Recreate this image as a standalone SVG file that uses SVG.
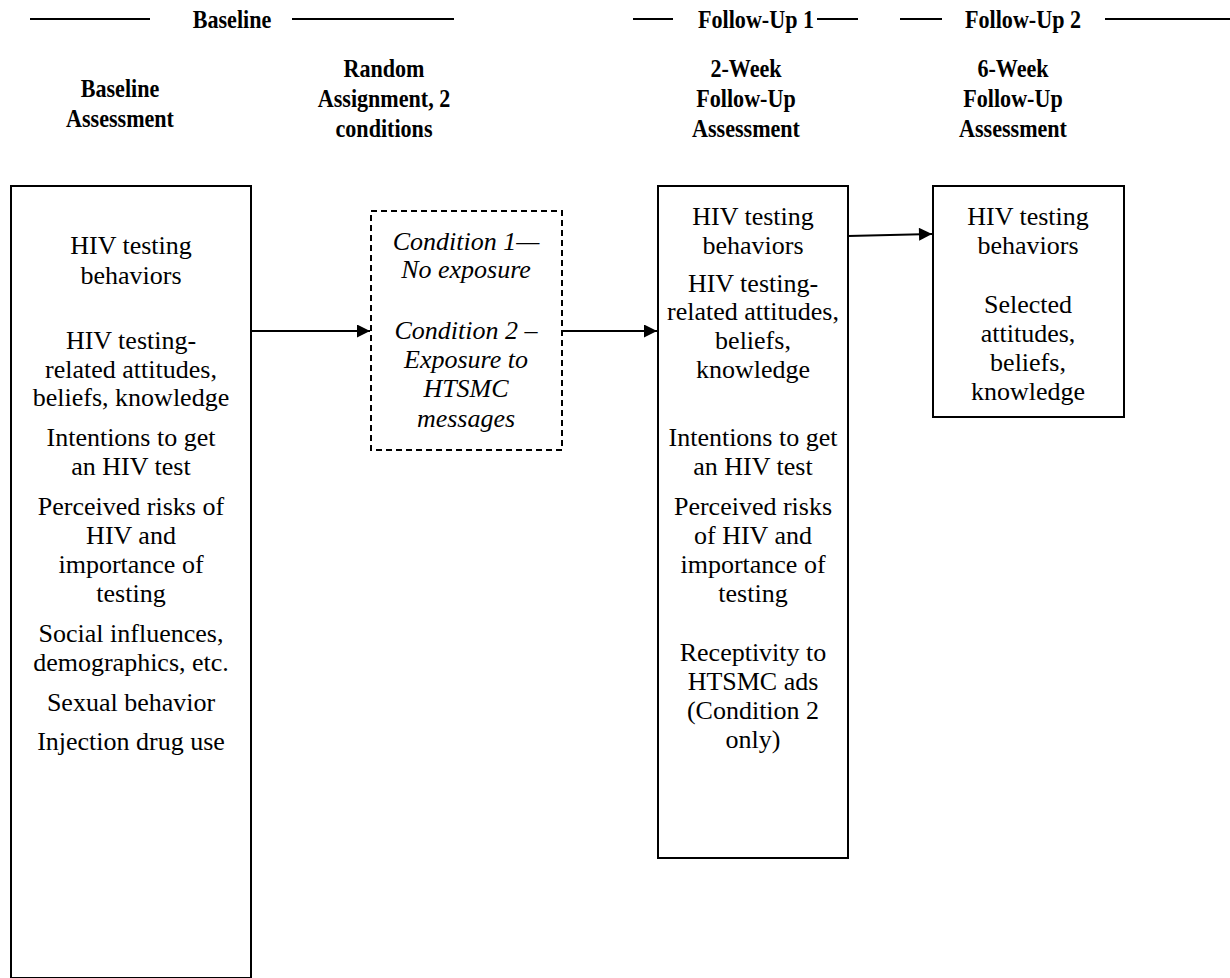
<svg xmlns="http://www.w3.org/2000/svg" width="1230" height="978" viewBox="0 0 1230 978">
<defs>
<style>
text{font-family:"Liberation Serif","Times New Roman",serif;fill:#000;text-anchor:middle}
.b{font-size:26px}
.h{font-size:26px;font-weight:bold}
.i{font-size:26px;font-style:italic}
.box{fill:#fff;stroke:#000;stroke-width:2}
.dash{fill:#fff;stroke:#000;stroke-width:2;stroke-dasharray:6 4}
.rule{stroke:#000;stroke-width:2}
.conn{stroke:#000;stroke-width:2;fill:none;marker-end:url(#ah)}
</style>
<marker id="ah" viewBox="0 0 10 10" refX="10" refY="5" markerUnits="userSpaceOnUse" markerWidth="15" markerHeight="13" orient="auto">
<path d="M0,0 L10,5 L0,10 z" fill="#000"/>
</marker>
</defs>
<rect width="1230" height="978" fill="#fff"/>
<g id="header">
<line class="rule" x1="30" y1="19" x2="150" y2="19"/>
<text class="h" transform="translate(232,28) scale(0.85,1)">Baseline</text>
<line class="rule" x1="292" y1="19" x2="454" y2="19"/>
<line class="rule" x1="633" y1="19" x2="673" y2="19"/>
<text class="h" transform="translate(756,28) scale(0.85,1)">Follow-Up 1</text>
<line class="rule" x1="817" y1="19" x2="858" y2="19"/>
<line class="rule" x1="900" y1="19" x2="942" y2="19"/>
<text class="h" transform="translate(1023,28) scale(0.85,1)">Follow-Up 2</text>
<line class="rule" x1="1105" y1="19" x2="1230" y2="19"/>
</g>
<g id="titles">
<text class="h" transform="translate(120,97) scale(0.85,1)">Baseline</text>
<text class="h" transform="translate(120,127) scale(0.85,1)">Assessment</text>
<text class="h" transform="translate(384,77) scale(0.85,1)">Random</text>
<text class="h" transform="translate(384,107) scale(0.85,1)">Assignment, 2</text>
<text class="h" transform="translate(384,137) scale(0.85,1)">conditions</text>
<text class="h" transform="translate(746,77) scale(0.85,1)">2-Week</text>
<text class="h" transform="translate(746,107) scale(0.85,1)">Follow-Up</text>
<text class="h" transform="translate(746,137) scale(0.85,1)">Assessment</text>
<text class="h" transform="translate(1013,77) scale(0.85,1)">6-Week</text>
<text class="h" transform="translate(1013,107) scale(0.85,1)">Follow-Up</text>
<text class="h" transform="translate(1013,137) scale(0.85,1)">Assessment</text>
</g>
<g id="connectors">
<line class="conn" x1="251" y1="331" x2="370" y2="331"/>
<line class="conn" x1="562" y1="331" x2="657" y2="331"/>
<line class="conn" x1="848" y1="236" x2="932" y2="234"/>
</g>
<g id="baseline-box">
<rect class="box" x="11" y="186" width="240" height="792"/>
<text class="b" x="131" y="254">HIV testing</text>
<text class="b" x="131" y="284">behaviors</text>
<text class="b" x="131" y="349">HIV testing-</text>
<text class="b" x="131" y="378">related attitudes,</text>
<text class="b" x="131" y="406">beliefs, knowledge</text>
<text class="b" x="131" y="446">Intentions to get</text>
<text class="b" x="131" y="475">an HIV test</text>
<text class="b" x="131" y="515">Perceived risks of</text>
<text class="b" x="131" y="544">HIV and</text>
<text class="b" x="131" y="573">importance of</text>
<text class="b" x="131" y="602">testing</text>
<text class="b" x="131" y="642">Social influences,</text>
<text class="b" x="131" y="671">demographics, etc.</text>
<text class="b" x="131" y="711">Sexual behavior</text>
<text class="b" x="131" y="750">Injection drug use</text>
</g>
<g id="random-box">
<rect class="dash" x="371" y="211" width="191" height="239"/>
<text class="i" x="466" y="250">Condition 1—</text>
<text class="i" x="466" y="278">No exposure</text>
<text class="i" x="466" y="339">Condition 2 –</text>
<text class="i" x="466" y="368">Exposure to</text>
<text class="i" x="466" y="397">HTSMC</text>
<text class="i" x="466" y="427">messages</text>
</g>
<g id="followup1-box">
<rect class="box" x="658" y="186" width="190" height="672"/>
<text class="b" x="753" y="225">HIV testing</text>
<text class="b" x="753" y="254">behaviors</text>
<text class="b" x="753" y="292">HIV testing-</text>
<text class="b" x="753" y="320">related attitudes,</text>
<text class="b" x="753" y="349">beliefs,</text>
<text class="b" x="753" y="378">knowledge</text>
<text class="b" x="753" y="446">Intentions to get</text>
<text class="b" x="753" y="475">an HIV test</text>
<text class="b" x="753" y="515">Perceived risks</text>
<text class="b" x="753" y="544">of HIV and</text>
<text class="b" x="753" y="573">importance of</text>
<text class="b" x="753" y="602">testing</text>
<text class="b" x="753" y="661">Receptivity to</text>
<text class="b" x="753" y="690">HTSMC ads</text>
<text class="b" x="753" y="719">(Condition 2</text>
<text class="b" x="753" y="748">only)</text>
</g>
<g id="followup2-box">
<rect class="box" x="933" y="186" width="191" height="231"/>
<text class="b" x="1028" y="225">HIV testing</text>
<text class="b" x="1028" y="254">behaviors</text>
<text class="b" x="1028" y="313">Selected</text>
<text class="b" x="1028" y="342">attitudes,</text>
<text class="b" x="1028" y="371">beliefs,</text>
<text class="b" x="1028" y="400">knowledge</text>
</g>
</svg>
